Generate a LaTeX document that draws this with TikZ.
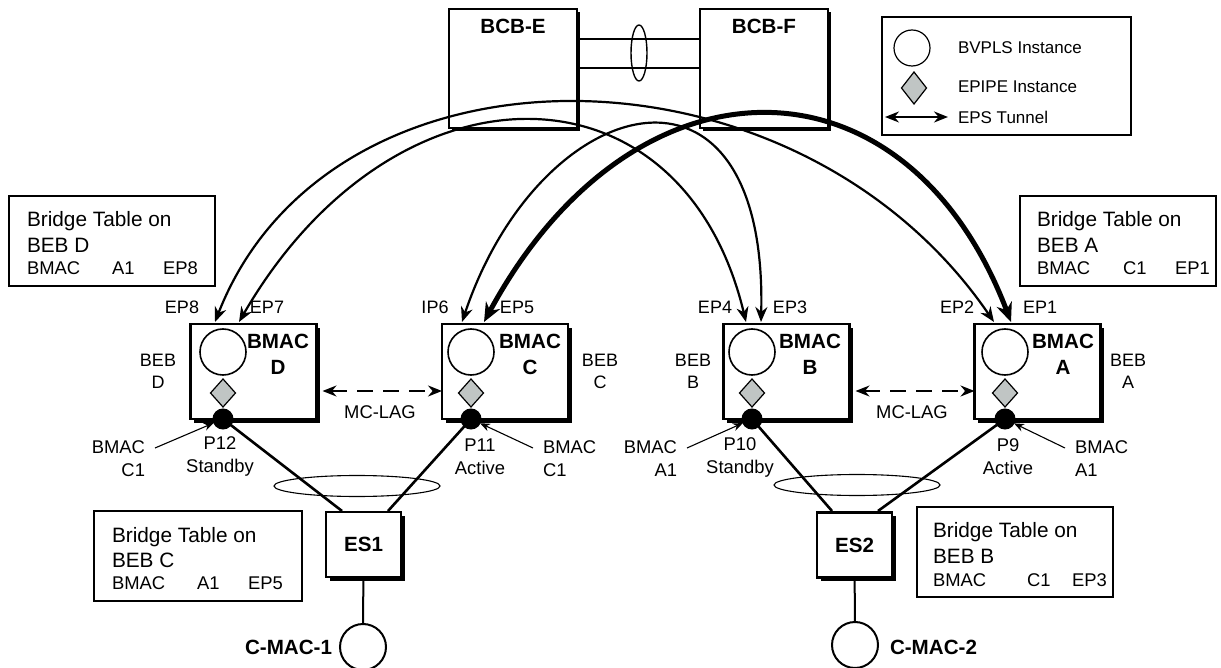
\documentclass[tikz,border=0pt]{standalone}
\usepackage{fontspec}
\setmainfont{Liberation Sans}
\usetikzlibrary{arrows.meta,shapes.geometric}
\definecolor{dgray}{RGB}{192,197,196}
\begin{document}
\begin{tikzpicture}[x=0.5pt,y=-0.5pt,
  every node/.style={inner sep=0pt,outer sep=0pt},
  fbig/.style={font=\fontsize{10.4}{13}\selectfont},
  fsmall/.style={font=\fontsize{9.2}{11.5}\selectfont},
  fbold/.style={font=\fontsize{10.3}{13}\selectfont\bfseries},
  flegend/.style={font=\fontsize{8.5}{10}\selectfont,anchor=west},
  fep/.style={font=\fontsize{9}{11}\selectfont},
  bebbox/.style={draw,line width=1.3pt,fill=white,minimum width=63pt,minimum height=47.5pt},
  bcbbox/.style={draw,line width=1.1pt,fill=white,minimum width=64pt,minimum height=59.5pt},
  esbox/.style={draw,line width=1.3pt,fill=white,minimum width=37.5pt,minimum height=32.5pt},
  shadowline/.style={line width=1.3pt,line cap=rect},
  tablebox/.style={draw,line width=0.7pt},
  vpls/.style={draw,circle,line width=0.8pt,fill=white,minimum size=23pt},
  epipe/.style={draw,diamond,line width=0.6pt,fill=dgray,minimum width=12.5pt,minimum height=14pt},
  port/.style={circle,fill=black,draw=black,line width=0.5pt,minimum size=10pt},
  tunnel/.style={line width=1.1pt,{Stealth[length=7.5pt,width=6pt]}-{Stealth[length=7.5pt,width=6pt]}},
  tunnelthick/.style={line width=2.5pt,{Stealth[length=9.5pt,width=8pt]}-{Stealth[length=9.5pt,width=8pt]}},
  mclag/.style={line width=0.9pt,dash pattern=on 8pt off 5pt,{Stealth[length=7pt,width=5.5pt]}-{Stealth[length=7pt,width=5.5pt]}},
  pointer/.style={line width=0.55pt,-{Stealth[length=5pt,width=4pt]}},
  link/.style={line width=1.3pt},
  lag/.style={draw,ellipse,line width=0.55pt,minimum width=83pt,minimum height=10.5pt}
]
\useasboundingbox (0,0) rectangle (1221,668);

% ---------- BCB boxes ----------
\node[bcbbox] (bcbE) at (513,68.5) {};
\node[bcbbox] (bcbF) at (764,68.5) {};
\draw[shadowline,line width=0.8pt] ([shift={(0.9pt,-2pt)}]bcbE.north east) -- ([shift={(0.9pt,-0.9pt)}]bcbE.south east) -- ([shift={(2pt,-0.9pt)}]bcbE.south west);
\draw[shadowline,line width=0.8pt] ([shift={(0.9pt,-2pt)}]bcbF.north east) -- ([shift={(0.9pt,-0.9pt)}]bcbF.south east) -- ([shift={(2pt,-0.9pt)}]bcbF.south west);
\node[fbold] (bcbEl) at (513,26) {BCB-E};
\node[fbold] (bcbFl) at (764,26) {BCB-F};
\coordinate (ya) at (0,39);
\coordinate (yb) at (0,68);
\draw[line width=0.9pt] (bcbE.east |- ya) -- (bcbF.west |- ya);
\draw[line width=0.9pt] (bcbE.east |- yb) -- (bcbF.west |- yb);
\node[draw,ellipse,line width=0.7pt,minimum width=8pt,minimum height=28pt] (bcblag) at (639,53) {};

% ---------- Legend ----------
\node[tablebox,minimum width=124.5pt,minimum height=59pt] (legend) at (1006.5,76) {};
\node[vpls,minimum size=18pt,line width=0.6pt] (lgc) at (912,48) {};
\node[epipe,minimum width=12.5pt,minimum height=16pt] (lgd) at (914,88) {};
\coordinate (lga) at (885,117);
\coordinate (lgb) at (948,117);
\draw[line width=0.9pt,{Stealth[length=7pt,width=5.5pt]}-{Stealth[length=7pt,width=5.5pt]}] (lga) -- (lgb);
\node[flegend] (lgt1) at (958,48) {BVPLS Instance};
\node[flegend] (lgt2) at (958,87) {EPIPE Instance};
\node[flegend] (lgt3) at (958,117) {EPS Tunnel};

% ---------- Bridge tables ----------
\node[tablebox,minimum width=103pt,minimum height=45pt] (btD) at (112,241) {};
\node[fbig,anchor=base west] (btD1) at (27,226.5) {Bridge Table on};
\node[fbig,anchor=base west] (btD2) at (27,252.5) {BEB D};
\node[fsmall,anchor=base west] (btD3) at (27,274.6) {BMAC};
\node[fsmall,anchor=base west] (btD4) at (112,274.6) {A1};
\node[fsmall,anchor=base west] (btD5) at (163,274.6) {EP8};

\node[tablebox,minimum width=98pt,minimum height=45pt] (btA) at (1118,241) {};
\node[fbig,anchor=base west] (btA1) at (1037,226.5) {Bridge Table on};
\node[fbig,anchor=base west] (btA2) at (1037,252.5) {BEB A};
\node[fsmall,anchor=base west] (btA3) at (1037,274.6) {BMAC};
\node[fsmall,anchor=base west] (btA4) at (1123,274.6) {C1};
\node[fsmall,anchor=base west] (btA5) at (1175,274.6) {EP1};

\node[tablebox,minimum width=104pt,minimum height=45pt] (btC) at (198,556) {};
\node[fbig,anchor=base west] (btC1) at (112,542.5) {Bridge Table on};
\node[fbig,anchor=base west] (btC2) at (112,567.5) {BEB C};
\node[fsmall,anchor=base west] (btC3) at (112,589.6) {BMAC};
\node[fsmall,anchor=base west] (btC4) at (197,589.6) {A1};
\node[fsmall,anchor=base west] (btC5) at (248,589.6) {EP5};

\node[tablebox,minimum width=98pt,minimum height=45pt] (btB) at (1015,552) {};
\node[fbig,anchor=base west] (btB1) at (933,537.5) {Bridge Table on};
\node[fbig,anchor=base west] (btB2) at (933,563.5) {BEB B};
\node[fsmall,anchor=base west] (btB3) at (933,586.6) {BMAC};
\node[fsmall,anchor=base west] (btB4) at (1027,586.6) {C1};
\node[fsmall,anchor=base west] (btB5) at (1072,586.6) {EP3};

% ---------- lags ----------
\node[lag] (lag1) at (357,486) {};
\node[lag] (lag2) at (857,485) {};

% ---------- BEB boxes ----------
\node[bebbox] (bD) at (253.5,371.5) {};
\node[bebbox] (bC) at (505,371.5) {};
\node[bebbox] (bB) at (786.5,371.5) {};
\node[bebbox] (bA) at (1037.5,371.5) {};
\foreach \b in {bD,bC,bB,bA}{
  \draw[shadowline] ([shift={(1.3pt,-2.6pt)}]\b.north east) -- ([shift={(1.3pt,-1.3pt)}]\b.south east) -- ([shift={(2.6pt,-1.3pt)}]\b.south west);
}

\node[vpls] (cD) at (223,352) {};
\node[vpls] (cC) at (471,352) {};
\node[vpls] (cB) at (752,352) {};
\node[vpls] (cA) at (1005,352) {};
\node[epipe] (dD) at (223,393) {};
\node[epipe] (dC) at (471,393) {};
\node[epipe] (dB) at (752,393) {};
\node[epipe] (dA) at (1005,393) {};

\node[fbold,align=center] (lD) at (278,354) {BMAC\\D};
\node[fbold,align=center] (lC) at (530,354) {BMAC\\C};
\node[fbold,align=center] (lB) at (810,354) {BMAC\\B};
\node[fbold,align=center] (lA) at (1063,354) {BMAC\\A};

\node[fep,align=center] (sD) at (158,371) {BEB\\D};
\node[fep,align=center] (sC) at (600,371) {BEB\\C};
\node[fep,align=center] (sB) at (693,371) {BEB\\B};
\node[fep,align=center] (sA) at (1128,371) {BEB\\A};

% EP labels
\node[fep] (tEP8) at (182,307) {EP8};
\node[fep] (tEP7) at (267,307) {EP7};
\node[fep] (tIP6) at (435,307) {IP6};
\node[fep] (tEP5) at (517,307) {EP5};
\node[fep] (tEP4) at (715,307) {EP4};
\node[fep] (tEP3) at (790,307) {EP3};
\node[fep] (tEP2) at (957,307) {EP2};
\node[fep] (tEP1) at (1040,307) {EP1};

% MC-LAG
\draw[mclag] ([yshift=-9.75pt,xshift=3pt]bD.east) -- ([yshift=-9.75pt]bC.west);
\draw[mclag] ([yshift=-9.75pt,xshift=3pt]bB.east) -- ([yshift=-9.75pt]bA.west);
\node[fsmall] (mc1) at (380,412) {MC-LAG};
\node[fsmall] (mc2) at (912,412) {MC-LAG};

% ---------- ES boxes ----------
\node[esbox] (es1) at (363.5,544.5) {};
\node[fbold] (es1l) at (363.5,544.5) {ES1};
\node[esbox] (es2) at (854.5,545) {};
\node[fbold] (es2l) at (854.5,545) {ES2};
\foreach \b in {es1,es2}{
  \draw[shadowline] ([shift={(1.3pt,-2.6pt)}]\b.north east) -- ([shift={(1.3pt,-1.3pt)}]\b.south east) -- ([shift={(2.6pt,-1.3pt)}]\b.south west);
}

\coordinate (e1a) at (342,511);
\coordinate (e1b) at (388,511);
\coordinate (e2a) at (832,511);
\coordinate (e2b) at (878,511);

% ports
\node[port] (pD) at (223,419) {};
\node[port] (pC) at (471,419) {};
\node[port] (pB) at (752,419) {};
\node[port] (pA) at (1005,419) {};

\draw[link] (pD) -- (e1a);
\draw[link] (pC) -- (e1b);
\draw[link] (pB) -- (e2a);
\draw[link] (pA) -- (e2b);

% port labels
\node[fsmall,align=center] (tP12) at (220,456.5) {P12\\Standby};
\node[fsmall,align=center] (tP11) at (480,457) {P11\\Active};
\node[fsmall,align=center] (tP10) at (740,457) {P10\\Standby};
\node[fsmall,align=center] (tP9) at (1008,456.5) {P9\\Active};

\node[fsmall,align=right,anchor=east] (bmD) at (145,458.5) {BMAC\\C1};
\node[fsmall,align=left,anchor=west] (bmC) at (543,458.5) {BMAC\\C1};
\node[fsmall,align=right,anchor=east] (bmB) at (677,458.5) {BMAC\\A1};
\node[fsmall,align=left,anchor=west] (bmA) at (1075,458.5) {BMAC\\A1};

\coordinate (ptD) at (155,448);
\coordinate (ptC) at (533,448);
\coordinate (ptB) at (687,448);
\coordinate (ptA) at (1065,448);
\draw[pointer] (ptD) -- (pD);
\draw[pointer] (ptC) -- (pC);
\draw[pointer] (ptB) -- (pB);
\draw[pointer] (ptA) -- (pA);

% ---------- C-MAC ----------
\node[vpls,line width=1pt] (cm1) at (363,647) {};
\node[vpls,line width=1pt] (cm2) at (855,645) {};
\draw[line width=1pt] (es1) -- (cm1);
\draw[line width=1pt] (es2) -- (cm2);
\node[fbold,anchor=east] (cm1l) at (332,647) {C-MAC-1};
\node[fbold,anchor=west] (cm2l) at (890,647) {C-MAC-2};

% ---------- EPS tunnels ----------
\coordinate (ep8) at (215,322);
\coordinate (ep7) at (239,322);
\coordinate (ip6) at (462,322);
\coordinate (ep5) at (484,322);
\coordinate (ep4) at (746,322);
\coordinate (ep3) at (761,322);
\coordinate (ep2) at (994,322);
\coordinate (ep1) at (1011,322);
\draw[tunnel] (ep8) .. controls (329,30) and (794,30) .. (ep2);
\draw[tunnel] (ep7) .. controls (394,54) and (682,54) .. (ep4);
\draw[tunnel] (ip6) .. controls (540,90) and (768,30) .. (ep3);
\draw[tunnelthick] (ep5) .. controls (633,46) and (906,46) .. (ep1);
\end{tikzpicture}
\end{document}
